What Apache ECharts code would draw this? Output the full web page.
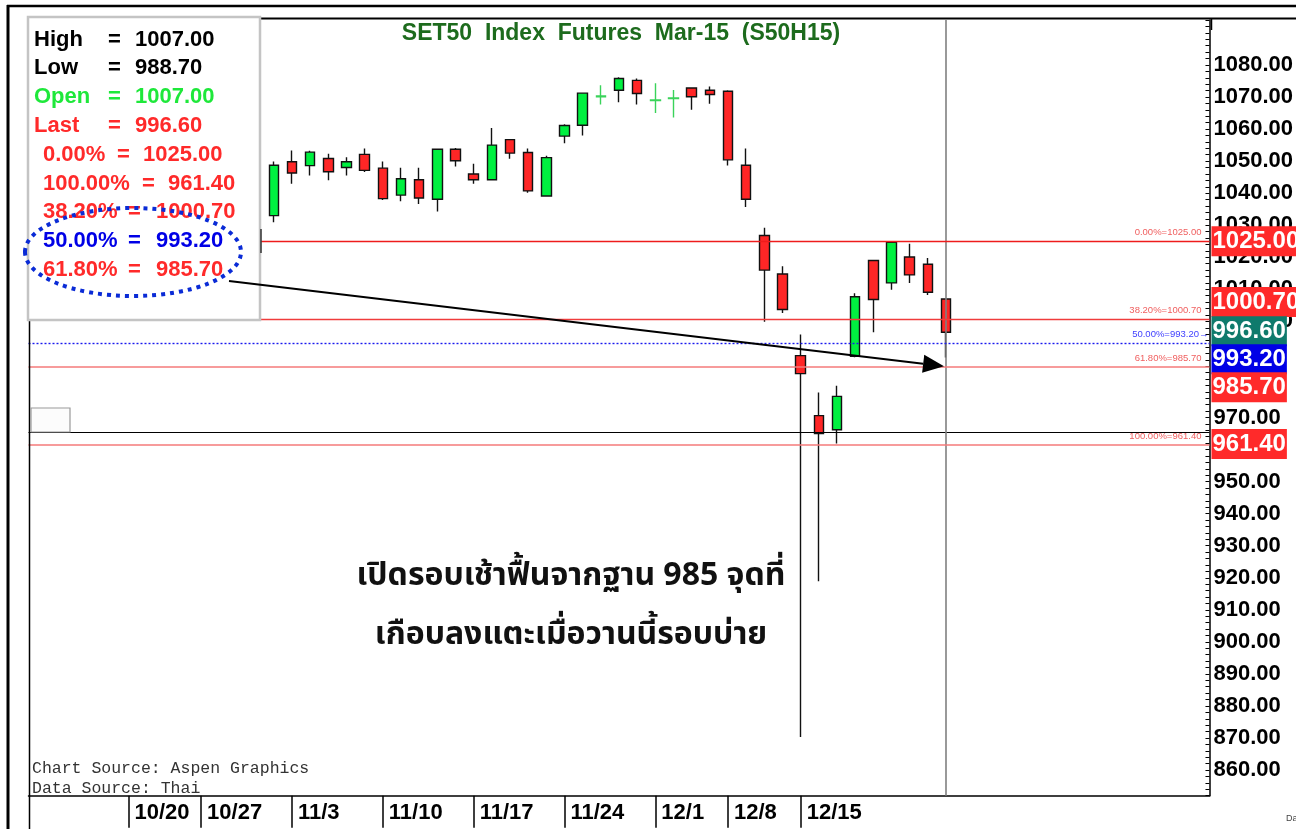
<!DOCTYPE html>
<html>
<head>
<meta charset="utf-8">
<script src="https://cdn.jsdelivr.net/npm/echarts@6/dist/echarts.min.js"></script>
<style>
  html, body { margin: 0; padding: 0; background: #fff; }
  #chart { width: 1296px; height: 829px; }
</style>
</head>
<body>
<div id="chart"></div>
<script>
// trading days on the category axis (left part hidden behind the info box, right part empty)
const dates = [
  '10/13', '10/14', '10/15', '10/16', '10/17',
  '10/20', '10/21', '10/22', '10/24',
  '10/27', '10/28', '10/29', '10/30', '10/31',
  '11/3', '11/4', '11/5', '11/6', '11/7',
  '11/10', '11/11', '11/12', '11/13', '11/14',
  '11/17', '11/18', '11/19', '11/20', '11/21',
  '11/24', '11/25', '11/26', '11/27', '11/28',
  '12/1', '12/2', '12/3', '12/4',
  '12/8', '12/9', '12/11', '12/12',
  '12/15', '12/16', '12/17', '12/18', '12/19',
  '12/22', '12/23', '12/24', '12/25',
  '12/26', '12/29', '12/30', '12/31', '1/2', '1/5', '1/6', '1/7', '1/8', '1/9',
  '1/12', '1/13', '1/14', '1/15'
];
const xTickLabels = ['10/20', '10/27', '11/3', '11/10', '11/17', '11/24', '12/1', '12/8', '12/15'];

// visible candles: [open, close, low, high]
const candleDates = [
  '10/31', '11/3', '11/4', '11/5', '11/6', '11/7',
  '11/10', '11/11', '11/12', '11/13', '11/14',
  '11/17', '11/18', '11/19', '11/20', '11/21',
  '11/24', '11/25', '11/26', '11/27', '11/28',
  '12/1', '12/2', '12/3', '12/4',
  '12/8', '12/9', '12/11', '12/12',
  '12/15', '12/16', '12/17', '12/18', '12/19',
  '12/22', '12/23', '12/24', '12/25'
];
const ohlc = [
  [1033.0, 1048.7, 1030.9, 1049.9], [1049.8, 1046.3, 1042.9, 1053.3], [1048.6, 1052.8, 1045.5, 1053.2],
  [1050.8, 1046.7, 1044.0, 1052.3], [1048.0, 1049.8, 1045.5, 1051.2], [1052.1, 1047.1, 1046.6, 1053.9],
  [1047.8, 1038.3, 1037.9, 1049.9], [1039.4, 1044.5, 1037.5, 1047.9], [1044.2, 1038.5, 1036.6, 1047.9],
  [1038.1, 1053.7, 1034.3, 1053.9], [1053.7, 1050.1, 1048.3, 1054.1],
  [1046.0, 1044.2, 1042.9, 1049.2], [1044.2, 1055.0, 1044.0, 1060.3], [1056.7, 1052.5, 1050.7, 1056.9],
  [1052.7, 1040.7, 1040.1, 1053.9], [1039.1, 1051.1, 1039.0, 1051.7],
  [1057.8, 1061.1, 1055.6, 1061.5], [1061.2, 1071.2, 1058.0, 1071.4], [1070.1, 1070.3, 1067.7, 1073.7],
  [1072.1, 1075.8, 1068.4, 1076.2], [1075.2, 1071.1, 1067.7, 1075.8],
  [1068.9, 1069.1, 1065.0, 1074.3], [1069.5, 1069.7, 1063.6, 1072.2], [1072.8, 1070.1, 1066.0, 1072.9],
  [1072.1, 1070.8, 1067.9, 1073.3],
  [1071.8, 1050.4, 1048.6, 1072.1], [1048.7, 1038.1, 1035.7, 1053.9], [1026.8, 1016.0, 999.9, 1029.2],
  [1014.8, 1003.7, 1002.6, 1017.2],
  [989.3, 983.7, 870.3, 995.9], [970.6, 965.0, 918.9, 977.8], [966.2, 976.6, 961.9, 979.9],
  [989.1, 1007.7, 988.8, 1008.8], [1019.0, 1006.8, 996.6, 1019.2],
  [1012.0, 1024.7, 1009.9, 1024.9], [1020.1, 1014.5, 1012.0, 1024.2], [1017.8, 1009.1, 1008.2, 1019.8],
  [1007.0, 996.6, 988.7, 1007.0]
];

// fibonacci retracement levels
const fibPct = ['0.00%', '38.20%', '50.00%', '61.80%', '100.00%'];
const fibVals = [1025.00, 1000.70, 993.20, 985.70, 961.40];
const lastPrice = 996.60;
const crossDate = '12/25';
const crossValue = 965.3;

// info box rows
const infoNames = ['High', 'Low', 'Open', 'Last', '0.00%', '100.00%', '38.20%', '50.00%', '61.80%'];
const infoValues = ['1007.00', '988.70', '1007.00', '996.60', '1025.00', '961.40', '1000.70', '993.20', '985.70'];

const noteLines = ['เปิดรอบเช้าฟื้นจากฐาน 985 จุดที่', 'เกือบลงแตะเมื่อวานนี้รอบบ่าย'];

const RED = '#ff2a2a';
const GREEN = '#1ee83a';
const BLUE = '#0000e6';

const chart = echarts.init(document.getElementById('chart'), null, { renderer: 'canvas' });

const candleData = dates.map((d) => {
  const i = candleDates.indexOf(d);
  if (i < 0) return '-';
  const v = ohlc[i];
  if (Math.abs(v[1] - v[0]) < 0.5) {
    // doji: draw as a green cross like the source chart
    return { value: v, itemStyle: { borderColor: '#3ad35a', borderColor0: '#3ad35a' } };
  }
  return v;
});

const tickFilter = (idx, val) => xTickLabels.indexOf(val) >= 0;

// fib lines with their small labels
const fibLineColor = ['#ee1c1c', '#f03c3c', '#1a1aee', '#f57a7a', '#f57a7a'];
const fibLines = fibVals.map((v, i) => ({
  yAxis: v,
  lineStyle: {
    color: fibLineColor[i],
    width: i >= 3 ? 1.6 : 1.4,
    type: i === 2 ? [2, 2] : 'solid',
    opacity: 1
  },
  label: {
    show: true,
    position: 'insideEndTop',
    formatter: fibPct[i] + '=' + v.toFixed(2) + (i === 2 ? '→' : ''),
    color: i === 2 ? '#4040ff' : '#f06060',
    fontSize: 9.5,
    fontFamily: 'Liberation Sans, Arial',
    distance: [i === 2 ? 1 : 8, 4]
  }
}));

// price boxes on the right axis
const boxItems = [
  { v: fibVals[0], bg: RED, dy: 0 },
  { v: fibVals[1], bg: RED, dy: -17 },
  { v: lastPrice, bg: '#0f7a6c', dy: -1 },
  { v: fibVals[2], bg: BLUE, dy: 16 },
  { v: fibVals[3], bg: RED, dy: 20 },
  { v: fibVals[4], bg: RED, dy: -1 }
].map((b) => ({
  yAxis: b.v,
  lineStyle: { color: 'rgba(0,0,0,0)', width: 0 },
  label: {
    show: true,
    position: 'end',
    distance: 2,
    formatter: b.v.toFixed(2),
    color: '#fff',
    backgroundColor: b.bg,
    fontSize: 24,
    fontWeight: 'bold',
    fontFamily: 'Liberation Sans, Arial',
    lineHeight: 24,
    padding: [4, 1, 2, 1],
    offset: [0, b.dy]
  }
}));

const option = {
  animation: false,
  backgroundColor: '#fff',
  grid: { left: 28.5, right: 85, top: 20.1, bottom: 33.3, show: false },
  xAxis: {
    type: 'category',
    data: dates,
    boundaryGap: true,
    axisLine: { show: true, lineStyle: { color: '#000', width: 1.5 } },
    axisTick: {
      show: true, interval: tickFilter, alignWithLabel: true, length: 32,
      lineStyle: { color: '#000', width: 1.5 }
    },
    axisLabel: {
      interval: tickFilter,
      align: 'left',
      padding: [0, 0, 0, 6],
      margin: 6,
      fontSize: 22,
      fontWeight: 'bold',
      fontFamily: 'Liberation Sans, Arial',
      color: '#000'
    },
    splitLine: { show: false }
  },
  yAxis: {
    type: 'value',
    position: 'right',
    min: 852,
    max: 1094,
    interval: 2,
    scale: true,
    axisLine: { show: true, lineStyle: { color: '#000', width: 1.5 } },
    axisTick: { show: true, inside: true, length: 4, lineStyle: { color: '#000', width: 1 } },
    axisLabel: {
      margin: 4,
      fontSize: 22,
      fontWeight: 'bold',
      fontFamily: 'Liberation Sans, Arial',
      color: '#000',
      formatter: (v) => (Math.round(v) % 10 === 0 && v <= 1080 ? v.toFixed(2) : '')
    },
    splitLine: { show: false }
  },
  series: [
    {
      type: 'candlestick',
      data: candleData,
      barWidth: 10,
      itemStyle: {
        color: '#00f040',
        color0: '#ff2626',
        borderColor: '#111',
        borderColor0: '#111',
        borderWidth: 1.4
      },
      markLine: {
        silent: true,
        symbol: ['none', 'none'],
        animation: false,
        data: [
          ...boxItems,
          { yAxis: crossValue, lineStyle: { color: '#000', width: 1.2, type: 'solid' }, label: { show: false } },
          { xAxis: crossDate, lineStyle: { color: '#808080', width: 1.6, type: 'solid' }, label: { show: false } },
          ...fibLines
        ]
      }
    }
  ]
};
chart.setOption(option);

// ---- annotations drawn over the plot ----
const font22 = 'bold 22px "Liberation Sans", Arial, sans-serif';
const rowColors = ['#000', '#000', GREEN, RED, RED, RED, RED, BLUE, RED];
const rowX = [
  [34, 108, 135], [34, 108, 135], [34, 108, 135], [34, 108, 135],
  [43, 117, 143], [43, 142, 168], [43, 128, 156], [43, 128, 156], [43, 128, 156]
];
const infoTexts = [];
infoNames.forEach((name, i) => {
  const y = 39.5 + i * 28.8;
  [name, '=', infoValues[i]].forEach((t, k) => {
    infoTexts.push({
      type: 'text', z: 110,
      style: { text: t, x: rowX[i][k], y: y, font: font22, fill: rowColors[i], verticalAlign: 'middle' }
    });
  });
});

// arrow from the ellipse to the 61.8% level at the last bar
const tip = chart.convertToPixel({ xAxisIndex: 0, yAxisIndex: 0 }, [crossDate, fibVals[3]]);
const start = [229, 281];
const tx = tip[0] - 2, ty = tip[1] - 1;
const dx = tx - start[0], dy = ty - start[1];
const len = Math.sqrt(dx * dx + dy * dy);
const ux = dx / len, uy = dy / len;
const headL = 21, headW = 9;
const bx = tx - ux * headL, by = ty - uy * headL;

chart.setOption({
  graphic: [
    // outer frame and plot border
    { type: 'line', z: 120, shape: { x1: 8, y1: 5, x2: 8, y2: 829 }, style: { stroke: '#000', lineWidth: 3 } },
    { type: 'line', z: 120, shape: { x1: 7, y1: 6, x2: 1296, y2: 6 }, style: { stroke: '#000', lineWidth: 2.5 } },
    { type: 'line', z: 90, shape: { x1: 29, y1: 18.5, x2: 1296, y2: 18.5 }, style: { stroke: '#000', lineWidth: 2 } },
    { type: 'line', z: 90, shape: { x1: 29.5, y1: 18, x2: 29.5, y2: 829 }, style: { stroke: '#000', lineWidth: 1.5 } },
    { type: 'line', z: 90, shape: { x1: 1211.5, y1: 18, x2: 1211.5, y2: 30 }, style: { stroke: '#000', lineWidth: 1.5 } },
    // small button at left
    { type: 'rect', z: 90, shape: { x: 31, y: 408, width: 39, height: 24 }, style: { fill: '#fcfcfc', stroke: '#999', lineWidth: 1.2 } },
    // title
    {
      type: 'text', z: 95,
      style: {
        text: 'SET50  Index  Futures  Mar-15  (S50H15)', x: 621, y: 34,
        font: 'bold 23px "Liberation Sans", Arial, sans-serif', fill: '#1d6b1d', align: 'center', verticalAlign: 'middle'
      }
    },
    // info box
    {
      type: 'rect', z: 100, shape: { x: 28, y: 17, width: 232, height: 303 },
      style: { fill: '#fff', stroke: '#c4c4c4', lineWidth: 2.5 }
    },
    { type: 'line', z: 101, shape: { x1: 261, y1: 229, x2: 261, y2: 253 }, style: { stroke: '#333', lineWidth: 1.5 } },
    ...infoTexts,
    // dotted ellipse
    {
      type: 'ellipse', z: 115, shape: { cx: 133, cy: 252, rx: 108, ry: 44 },
      style: { fill: null, stroke: '#0a2bd6', lineWidth: 4, lineDash: [4, 5] }
    },
    // arrow
    {
      type: 'line', z: 116, shape: { x1: start[0], y1: start[1], x2: bx, y2: by },
      style: { stroke: '#000', lineWidth: 2 }
    },
    {
      type: 'polygon', z: 116,
      shape: { points: [[tx, ty], [bx - uy * headW, by + ux * headW], [bx + uy * headW, by - ux * headW]] },
      style: { fill: '#000' }
    },
    // Thai note
    ...noteLines.map((t, i) => ({
      type: 'text', z: 95,
      style: {
        text: t, x: 571, y: 579 + i * 59,
        font: 'bold 32px "Noto Sans Thai", "Noto Sans", "DejaVu Sans", sans-serif',
        fill: '#111', align: 'center', verticalAlign: 'middle'
      }
    })),
    // sources
    {
      type: 'text', z: 95,
      style: { text: 'Chart Source: Aspen Graphics', x: 32, y: 769, font: '16.5px "Liberation Mono", "DejaVu Sans Mono", monospace', fill: '#333', verticalAlign: 'middle' }
    },
    {
      type: 'text', z: 95,
      style: { text: 'Data Source: Thai', x: 32, y: 789, font: '16.5px "Liberation Mono", "DejaVu Sans Mono", monospace', fill: '#333', verticalAlign: 'middle' }
    },
    {
      type: 'text', z: 95,
      style: { text: 'Da', x: 1286, y: 819, font: '9px "Liberation Sans", Arial', fill: '#444', verticalAlign: 'middle' }
    }
  ]
});
</script>
</body>
</html>
